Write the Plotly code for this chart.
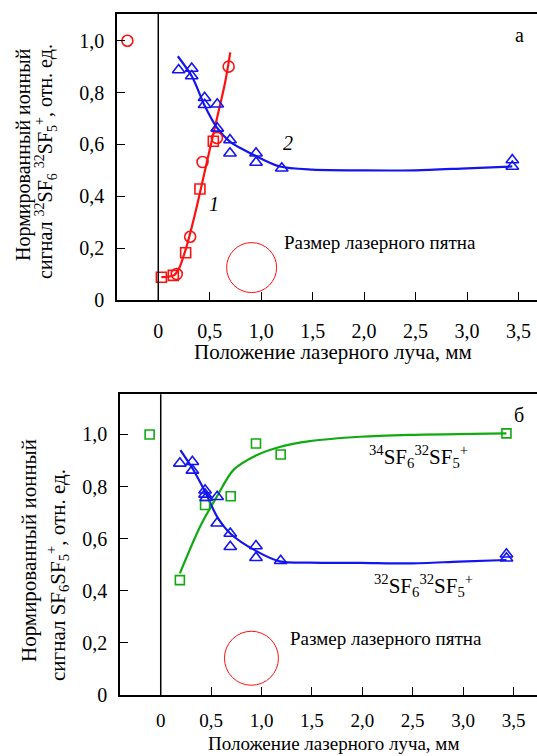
import plotly.graph_objects as go

# ---------- panel (а): normalized 32SF6 32SF5+ signal ----------
a_circ_x = [-0.30, 0.18, 0.31, 0.43, 0.57, 0.684]
a_circ_y = [1.00, 0.10, 0.244, 0.532, 0.625, 0.90]
a_sq_x = [0.03, 0.146, 0.266, 0.405, 0.535]
a_sq_y = [0.088, 0.095, 0.182, 0.428, 0.612]
a_fit1_x = [0.03, 0.15, 0.20, 0.27, 0.35, 0.42, 0.50, 0.57, 0.65, 0.70]
a_fit1_y = [0.088, 0.095, 0.12, 0.20, 0.32, 0.44, 0.58, 0.70, 0.84, 0.955]

a_tri_x = [0.198, 0.325, 0.325, 0.45, 0.45, 0.573, 0.573, 0.697, 0.697, 0.95, 0.95, 1.20, 3.44, 3.44]
a_tri_y = [0.887, 0.893, 0.864, 0.78, 0.753, 0.755, 0.662, 0.617, 0.566, 0.566, 0.53, 0.508, 0.54, 0.515]
a_fit2_x = [0.19, 0.33, 0.45, 0.57, 0.70, 0.95, 1.18, 1.5, 2.0, 2.5, 3.0, 3.44]
a_fit2_y = [0.94, 0.86, 0.75, 0.665, 0.61, 0.555, 0.515, 0.503, 0.50, 0.50, 0.508, 0.515]

# ---------- panel (б): normalized SF6SF5+ signal ----------
b_sq_x = [-0.11, 0.19, 0.44, 0.694, 0.945, 1.19, 3.43]
b_sq_y = [1.00, 0.441, 0.729, 0.763, 0.965, 0.923, 1.004]
b_fit34_x = [0.19, 0.39, 0.555, 0.72, 0.95, 1.18, 1.48, 1.98, 2.47, 3.43]
b_fit34_y = [0.467, 0.646, 0.76, 0.863, 0.92, 0.952, 0.974, 0.991, 0.998, 1.004]

b_tri_x = [0.19, 0.314, 0.314, 0.44, 0.44, 0.45, 0.56, 0.56, 0.69, 0.69, 0.945, 0.945, 1.19, 3.43, 3.43]
b_tri_y = [0.889, 0.895, 0.862, 0.786, 0.77, 0.757, 0.761, 0.659, 0.62, 0.569, 0.572, 0.527, 0.515, 0.54, 0.525]
b_fit32_x = [0.195, 0.314, 0.44, 0.56, 0.69, 0.945, 1.18, 1.48, 1.98, 2.47, 2.96, 3.43]
b_fit32_y = [0.94, 0.87, 0.78, 0.684, 0.62, 0.553, 0.513, 0.508, 0.507, 0.505, 0.512, 0.518]

x_ticks = [0, 0.5, 1.0, 1.5, 2.0, 2.5, 3.0, 3.5]
x_ticktext = ["0", "0,5", "1,0", "1,5", "2,0", "2,5", "3,0", "3,5"]
y_ticks = [0, 0.2, 0.4, 0.6, 0.8, 1.0]
y_ticktext = ["0", "0,2", "0,4", "0,6", "0,8", "1,0"]

# laser spot marker (centre in data units, radius in pixels)
spot_a = (0.907, 0.125, 25)
spot_b = (0.90, 0.141, 27)

RED = "#ff1010"
BLUE = "#1414f0"
GREEN = "#10aa10"
FONT = "Liberation Serif"

fig = go.Figure()

def line(x, y, color, xa, ya):
    fig.add_trace(go.Scatter(x=x, y=y, mode="lines", line=dict(color=color, width=2.2, shape="spline", smoothing=0.8),
                             xaxis=xa, yaxis=ya, hoverinfo="skip", showlegend=False))

def pts(x, y, color, symbol, size, xa, ya):
    fig.add_trace(go.Scatter(x=x, y=y, mode="markers",
                             marker=dict(symbol=symbol, size=size, color=color,
                                         line=dict(color=color, width=1.6)),
                             xaxis=xa, yaxis=ya, showlegend=False))

# panel а
line(a_fit1_x, a_fit1_y, RED, "x", "y")
line(a_fit2_x, a_fit2_y, BLUE, "x", "y")
pts(a_circ_x, a_circ_y, RED, "circle-open", 11, "x", "y")
pts(a_sq_x, a_sq_y, RED, "square-open", 10, "x", "y")
pts(a_tri_x, a_tri_y, BLUE, "triangle-up-open", 11, "x", "y")

# panel б
line(b_fit34_x, b_fit34_y, GREEN, "x2", "y2")
line(b_fit32_x, b_fit32_y, BLUE, "x2", "y2")
pts(b_sq_x, b_sq_y, GREEN, "square-open", 9, "x2", "y2")
pts(b_tri_x, b_tri_y, BLUE, "triangle-up-open", 11, "x2", "y2")

W, H = 537, 756

axis_common = dict(showgrid=False, zeroline=False, showline=True, linecolor="black", linewidth=1.5,
                   ticks="inside", ticklen=8, tickwidth=1.3, tickcolor="black")
tick_font = dict(family=FONT, size=20, color="black")
tick_font_b = dict(family=FONT, size=19, color="black")

fig.update_layout(
    width=W, height=H, margin=dict(l=0, r=0, t=0, b=0, autoexpand=False),
    paper_bgcolor="white", plot_bgcolor="white",
    font=dict(family=FONT, color="black"),
    xaxis=dict(domain=[117 / W, 1.0], range=[-0.401, 3.68], anchor="y", mirror=True,
               tickvals=x_ticks, ticktext=x_ticktext, ticklabelstandoff=12, tickfont=tick_font, **axis_common),
    yaxis=dict(domain=[1 - 300 / H, 1 - 14 / H], range=[0, 1.103], anchor="x",
               tickvals=y_ticks, ticktext=y_ticktext, ticklabelstandoff=7, tickfont=tick_font, **axis_common),
    xaxis2=dict(domain=[120 / W, 1.0], range=[-0.404, 3.733], anchor="y2", mirror=True,
                tickvals=x_ticks, ticktext=x_ticktext, ticklabelstandoff=7, tickfont=tick_font_b, **axis_common),
    yaxis2=dict(domain=[1 - 695 / H, 1 - 394.3 / H], range=[0, 1.154], anchor="x2",
                tickvals=y_ticks, ticktext=y_ticktext, ticklabelstandoff=7, tickfont=tick_font, **axis_common),
)

# vertical line at zero position
for xr, yr in (("x", "y domain"), ("x2", "y2 domain")):
    fig.add_shape(type="line", xref=xr, yref=yr, x0=0, x1=0, y0=0, y1=1,
                  line=dict(color="black", width=1.5))

# laser spot circles
for (cx, cy, r), xr, yr in ((spot_a, "x", "y"), (spot_b, "x2", "y2")):
    fig.add_shape(type="circle", xref=xr, yref=yr, xsizemode="pixel", ysizemode="pixel",
                  xanchor=cx, yanchor=cy, x0=-r, x1=r, y0=-r, y1=r,
                  line=dict(color=RED, width=1))

def note(text, x, y, xr, yr, size=18, xanchor="center", italic=False, angle=0):
    fig.add_annotation(text=f"<i>{text}</i>" if italic else text, x=x, y=y, xref=xr, yref=yr,
                       showarrow=False, xanchor=xanchor, yanchor="middle", textangle=angle,
                       font=dict(family=FONT, size=size, color="black"))

# panel а labels
note("а", 3.51, 1.022, "x", "y", size=20)
note("1", 0.543, 0.37, "x", "y", size=20, italic=True)
note("2", 1.258, 0.604, "x", "y", size=20, italic=True)
note("Размер лазерного пятна", 1.20, 0.22, "x", "y", size=19, xanchor="left")
note("Положение лазерного луча, мм", 333 / W, 1 - 351.7 / H, "paper", "paper", size=21)
note("Нормированный ионный", 24 / W, 1 - 155 / H, "paper", "paper", size=20, angle=-90)
note("сигнал <sup>32</sup>SF<sub>6</sub> <sup>32</sup>SF<sub>5</sub><sup>+</sup>, отн. ед.",
     46 / W, 1 - 162 / H, "paper", "paper", size=20, angle=-90)

# panel б labels
note("б", 3.55, 1.074, "x2", "y2", size=20)
note("<sup>34</sup>SF<sub>6</sub><sup>32</sup>SF<sub>5</sub><sup>+</sup>", 2.555, 0.914, "x2", "y2", size=21)
note("<sup>32</sup>SF<sub>6</sub><sup>32</sup>SF<sub>5</sub><sup>+</sup>", 2.605, 0.422, "x2", "y2", size=21)
note("Размер лазерного пятна", 1.266, 0.2175, "x2", "y2", size=19, xanchor="left")
note("Положение лазерного луча, мм", 333 / W, 1 - 743 / H, "paper", "paper", size=19)
note("Нормированный ионный", 29 / W, 1 - 551 / H, "paper", "paper", size=21, angle=-90)
note("сигнал SF<sub>6</sub>SF<sub>5</sub><sup>+</sup>, отн. ед.",
     57 / W, 1 - 575 / H, "paper", "paper", size=21, angle=-90)

fig.write_html("out.html")
